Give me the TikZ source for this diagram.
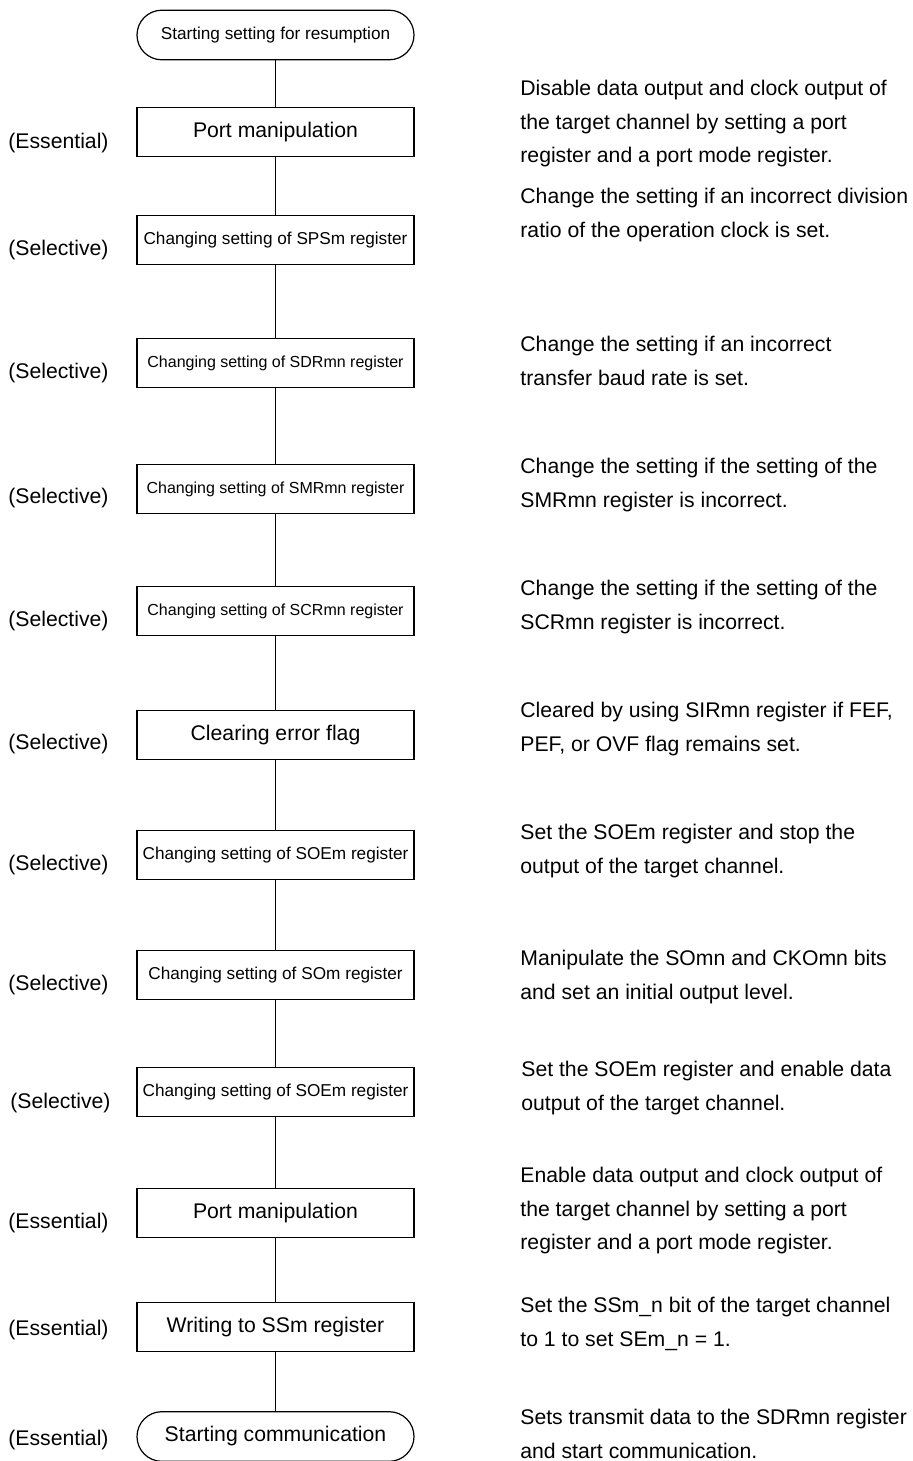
\documentclass[tikz,border=0pt]{standalone}
\usepackage{fontspec}
\setmainfont{Liberation Sans}
\usetikzlibrary{positioning}

\begin{document}
\begin{tikzpicture}[x=0.5pt, y=-0.5pt,
  stepbox/.style={rectangle, draw, line width=0.6pt, minimum width=138.5pt,
                  minimum height=24.5pt, inner sep=0pt,
                  font=\fontsize{8.6}{10.3}\selectfont},
  smallbox/.style={stepbox, font=\fontsize{8}{9.6}\selectfont},
  bigbox/.style={stepbox, font=\fontsize{10.6}{12.7}\selectfont},
  term/.style={stepbox, minimum height=24.8pt, rounded corners=12.4pt},
  kind/.style={anchor=west, inner sep=0pt, font=\fontsize{10.6}{12.7}\selectfont},
  note/.style={anchor=west, inner sep=0pt, align=left,
               font=\fontsize{10.6}{16.75}\selectfont},
  link/.style={line width=0.6pt}
]
\useasboundingbox (0,0) rectangle (913,1461);

\node[term] (start) at (275.5,35) {Starting setting for resumption};
\node[bigbox] (port1) at (275.5,132) {Port manipulation};
\node[stepbox] (sps) at (275.5,240) {Changing setting of SPSm register};
\node[smallbox] (sdr) at (275.5,363) {Changing setting of SDRmn register};
\node[smallbox] (smr) at (275.5,489) {Changing setting of SMRmn register};
\node[smallbox] (scr) at (275.5,611) {Changing setting of SCRmn register};
\node[bigbox] (clr) at (275.5,735) {Clearing error flag};
\node[stepbox] (soe1) at (275.5,855) {Changing setting of SOEm register};
\node[stepbox] (som) at (275.5,975) {Changing setting of SOm register};
\node[stepbox] (soe2) at (275.5,1092) {Changing setting of SOEm register};
\node[bigbox] (port2) at (275.5,1213) {Port manipulation};
\node[bigbox] (ssm) at (275.5,1327) {Writing to SSm register};
\node[term, font=\fontsize{10.6}{12.7}\selectfont] (comm) at (275.5,1436.5) {Starting communication};

\draw[link] (start) -- (port1);
\draw[link] (port1) -- (sps);
\draw[link] (sps) -- (sdr);
\draw[link] (sdr) -- (smr);
\draw[link] (smr) -- (scr);
\draw[link] (scr) -- (clr);
\draw[link] (clr) -- (soe1);
\draw[link] (soe1) -- (som);
\draw[link] (som) -- (soe2);
\draw[link] (soe2) -- (port2);
\draw[link] (port2) -- (ssm);
\draw[link] (ssm) -- (comm);

% left column
\node[kind] (k1) at (8,143) {(Essential)};
\node[kind] (k2) at (8,250) {(Selective)};
\node[kind] (k3) at (8,373) {(Selective)};
\node[kind] (k4) at (8,498) {(Selective)};
\node[kind] (k5) at (8,621) {(Selective)};
\node[kind] (k6) at (8,744) {(Selective)};
\node[kind] (k7) at (8,865) {(Selective)};
\node[kind] (k8) at (8,985) {(Selective)};
\node[kind] (k9) at (10,1103) {(Selective)};
\node[kind] (k10) at (8,1223) {(Essential)};
\node[kind] (k11) at (8,1330) {(Essential)};
\node[kind] (k12) at (8,1440) {(Essential)};

% right column
\node[note] (n1) at (520,124) {Disable data output and clock output of\\
  the target channel by setting a port\\register and a port mode register.};
\node[note] (n2) at (520,215) {Change the setting if an incorrect division\\
  ratio of the operation clock is set.};
\node[note] (n3) at (520,361) {Change the setting if an incorrect\\
  transfer baud rate is set.};
\node[note] (n4) at (520,485) {Change the setting if the setting of the\\
  SMRmn register is incorrect.};
\node[note] (n5) at (520,607) {Change the setting if the setting of the\\
  SCRmn register is incorrect.};
\node[note] (n6) at (520,729) {Cleared by using SIRmn register if FEF,\\
  PEF, or OVF flag remains set.};
\node[note] (n7) at (520,851) {Set the SOEm register and stop the\\
  output of the target channel.};
\node[note] (n8) at (520,977) {Manipulate the SOmn and CKOmn bits\\
  and set an initial output level.};
\node[note] (n9) at (521,1088) {Set the SOEm register and enable data\\
  output of the target channel.};
\node[note] (n10) at (520,1211) {Enable data output and clock output of\\
  the target channel by setting a port\\register and a port mode register.};
\node[note] (n11) at (520,1324) {Set the SSm\_n bit of the target channel\\
  to 1 to set SEm\_n = 1.};
\node[note] (n12) at (520,1434) {Sets transmit data to the SDRmn register\\
  and start communication.};
\end{tikzpicture}
\end{document}
